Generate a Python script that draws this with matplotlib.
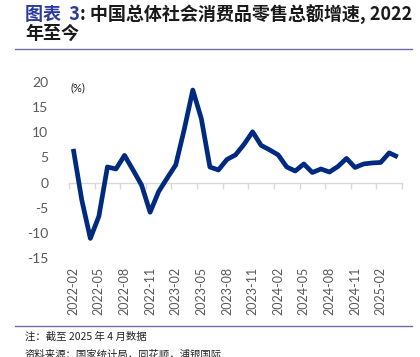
import matplotlib
matplotlib.use("Agg")
import matplotlib.pyplot as plt
from matplotlib.lines import Line2D

# ── data: 社会消费品零售总额同比 (%), 2022-02 .. 2025-04 ────────────────────────
months = (["2022-%02d" % m for m in range(2, 13)] +
          ["2023-%02d" % m for m in range(1, 13)] +
          ["2024-%02d" % m for m in range(1, 13)] +
          ["2025-%02d" % m for m in range(1, 5)])
values = [6.7, -3.5, -11.1, -6.7, 3.1, 2.7, 5.4, 2.5, -0.5, -5.9, -1.8,
          0.9, 3.5, 10.6, 18.4, 12.7, 3.1, 2.5, 4.6, 5.5, 7.6, 10.1, 7.4,
          6.5, 5.5, 3.1, 2.3, 3.7, 2.0, 2.7, 2.1, 3.2, 4.8, 3.0, 3.7,
          3.9, 4.0, 5.9, 5.1]
label_step = 3
yticks = [20, 15, 10, 5, 0, -5, -10, -15]

NAVY = "#002A7F"
GREY = "#595959"
RULE = "#6E6EAA"
CJK = ["Noto Sans CJK SC", "DejaVu Sans"]

W, H = 420, 357
fig = plt.figure(figsize=(W / 100, H / 100), dpi=100)

# ── title ─────────────────────────────────────────────────────────────────────
t1 = fig.text(25 / W, 1 - 15 / H, "图表  3", family=CJK, fontsize=13,
              fontweight="bold", color="#2B3C9C", va="center", ha="left")
fig.text(25 / W, 1 - 33 / H, "年至今", family=CJK, fontsize=13,
         fontweight="bold", color="#1A1A1A", va="center", ha="left")

# rules
fig.add_artist(Line2D([15 / W, 412 / W], [1 - 49 / H, 1 - 49 / H],
                      color=RULE, lw=1.0))
fig.add_artist(Line2D([15 / W, 412 / W], [1 - 326 / H, 1 - 326 / H],
                      color=RULE, lw=1.0))

fig.text(25 / W, 1 - 337 / H, "注：截至 2025 年 4 月数据", family=CJK,
         fontsize=7.5, color="#222222", va="center", ha="left")
fig.text(25 / W, 1 - 354 / H, "资料来源：国家统计局，同花顺，浦银国际", family=CJK,
         fontsize=7.5, color="#222222", va="center", ha="left")

# ── chart ─────────────────────────────────────────────────────────────────────
ax = fig.add_axes([69 / W, 1 - 258 / H, 333 / W, 176 / H])
ax.annotate(": 中国总体社会消费品零售总额增速, 2022", xy=(1, 0.5), xycoords=t1,
            va="center", ha="left", family=CJK, fontsize=13,
            fontweight="bold", color="#1A1A1A", annotation_clip=False)

x = list(range(len(values)))
ax.plot(x, values, color=NAVY, lw=3.4, solid_joinstyle="round",
        solid_capstyle="butt", zorder=3)

ax.set_xlim(-0.5, len(values) - 0.5)
ax.set_ylim(-15, 20)

for s in ["left", "right", "top"]:
    ax.spines[s].set_visible(False)
ax.spines["bottom"].set_position(("data", 0))
ax.spines["bottom"].set_color("#D9D9D9")
ax.spines["bottom"].set_linewidth(1.0)

ax.set_xticks([i - 0.5 for i in range(0, len(values) + 1, label_step)])
ax.set_xticklabels([])
ax.tick_params(axis="x", direction="out", length=4, width=1.0,
               color="#D9D9D9")

ax.set_yticks(yticks)
ax.set_yticklabels([str(v) for v in yticks], family="Lato", fontsize=10,
                   color=GREY)
ax.tick_params(axis="y", length=0, pad=15)

for i in range(0, len(values), label_step):
    ax.text(i, -9 / 176, months[i], transform=ax.get_xaxis_transform(),
            rotation=90, ha="center", va="top", family="Lato",
            fontsize=9, color=GREY)

ax.text(-0.3, 18.8, "(%)", ha="left", va="center", family="Lato",
        fontsize=8, color="#222222")

fig.savefig("out.png", dpi=100)
